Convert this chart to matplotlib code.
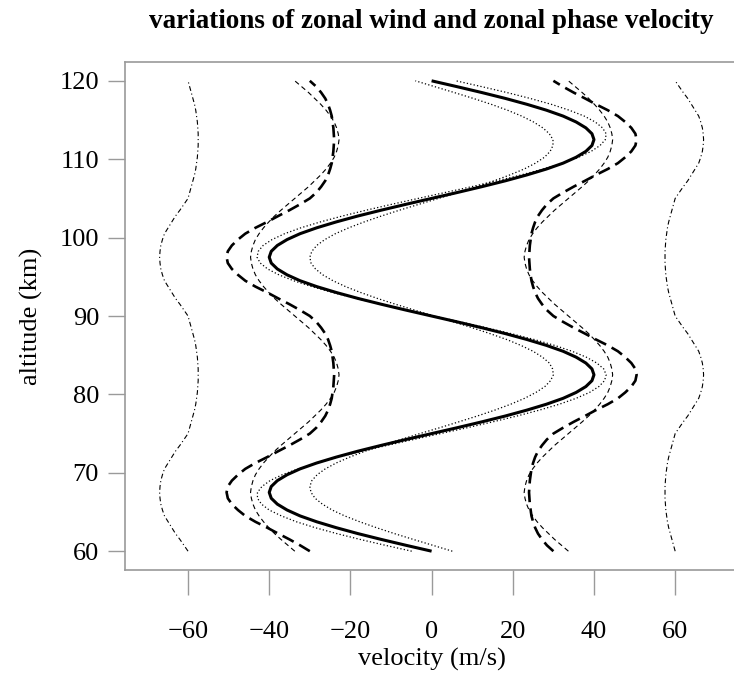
import matplotlib
matplotlib.use("Agg")
import matplotlib.pyplot as plt

plt.rcParams['font.family'] = ['Liberation Serif', 'DejaVu Serif']
plt.rcParams['lines.scale_dashes'] = False

# altitude grid (km), 0.75 km spacing from 60 to 120
altitude = [60 + 0.75 * i for i in range(81)]

# zonal wind (m/s)
wind = [0, -6.3, -12.4, -18.2, -23.5, -28.3, -32.4, -35.6, -38.0, -39.5, -40, -39.5, -38.0, -35.6, -32.4, -28.3, -23.5, -18.2, -12.4, -6.3,
        0, 6.3, 12.4, 18.2, 23.5, 28.3, 32.4, 35.6, 38.0, 39.5, 40, 39.5, 38.0, 35.6, 32.4, 28.3, 23.5, 18.2, 12.4, 6.3,
        0, -6.3, -12.4, -18.2, -23.5, -28.3, -32.4, -35.6, -38.0, -39.5, -40, -39.5, -38.0, -35.6, -32.4, -28.3, -23.5, -18.2, -12.4, -6.3,
        0, 6.3, 12.4, 18.2, 23.5, 28.3, 32.4, 35.6, 38.0, 39.5, 40, 39.5, 38.0, 35.6, 32.4, 28.3, 23.5, 18.2, 12.4, 6.3, 0]

# dotted curves (inner and outer)
dotted_inner = [5.1, 0.3, -4.5, -9.2, -13.6, -17.7, -21.4, -24.5, -26.9, -28.7, -29.7, -30.0, -29.5, -28.2, -26.2, -23.5, -20.2, -16.4, -12.2, -7.6,
                -2.9, 2.0, 6.7, 11.3, 15.6, 19.5, 22.9, 25.7, 27.9, 29.3, 30.0, 29.8, 29.0, 27.3, 25.0, 22.0, 18.5, 14.4, 10.0, 5.4,
                0.6, -4.2, -8.9, -13.4, -17.5, -21.2, -24.3, -26.8, -28.6, -29.7, -30.0, -29.5, -28.3, -26.3, -23.7, -20.4, -16.6, -12.4, -7.9, -3.1,
                1.7, 6.5, 11.1, 15.4, 19.3, 22.8, 25.6, 27.8, 29.2, 29.9, 29.9, 29.0, 27.4, 25.1, 22.2, 18.7, 14.7, 10.3, 5.6, 0.8, -4.0]
dotted_outer = [-4.9, -11.4, -17.6, -23.4, -28.7, -33.3, -37.0, -40.0, -41.9, -42.9, -42.9, -41.8, -39.8, -36.8, -32.9, -28.3, -23.0, -17.2, -10.9, -4.4,
                2.2, 8.8, 15.1, 21.1, 26.6, 31.5, 35.6, 38.9, 41.2, 42.6, 43.0, 42.4, 40.7, 38.1, 34.6, 30.3, 25.3, 19.6, 13.5, 7.1,
                0.5, -6.1, -12.5, -18.7, -24.4, -29.5, -34.0, -37.6, -40.4, -42.2, -43.0, -42.7, -41.5, -39.3, -36.2, -32.2, -27.4, -22.0, -16.1, -9.8,
                -3.3, 3.3, 9.9, 16.2, 22.1, 27.5, 32.2, 36.2, 39.3, 41.5, 42.8, 43.0, 42.1, 40.3, 37.6, 33.9, 29.5, 24.3, 18.6, 12.4, 6.0]

# thick dashed phase velocities
thick_left = [-30, -32.4, -35.0, -37.8, -40.5, -43.4, -45.9, -47.7, -49.2, -50.2, -50.5, -50.2, -49.2, -47.7, -45.9, -43.4, -40.5, -37.8, -35.0, -32.4,
              -30, -28.4, -27.2, -26.2, -25.5, -25.0, -24.6, -24.4, -24.2, -24.1, -24.0, -24.1, -24.2, -24.4, -24.6, -25.0, -25.5, -26.2, -27.2, -28.4,
              -30, -32.4, -35.0, -37.8, -40.5, -43.4, -45.9, -47.7, -49.2, -50.2, -50.5, -50.2, -49.2, -47.7, -45.9, -43.4, -40.5, -37.8, -35.0, -32.4,
              -30, -28.4, -27.2, -26.2, -25.5, -25.0, -24.6, -24.4, -24.2, -24.1, -24.0, -24.1, -24.2, -24.4, -24.6, -25.0, -25.5, -26.2, -27.2, -28.4, -30]
thick_right = [30, 28.4, 27.2, 26.2, 25.5, 25.0, 24.6, 24.4, 24.2, 24.1, 24.0, 24.1, 24.2, 24.4, 24.6, 25.0, 25.5, 26.2, 27.2, 28.4,
               30, 32.4, 35.0, 37.8, 40.5, 43.4, 45.9, 47.7, 49.2, 50.2, 50.5, 50.2, 49.2, 47.7, 45.9, 43.4, 40.5, 37.8, 35.0, 32.4,
               30, 28.4, 27.2, 26.2, 25.5, 25.0, 24.6, 24.4, 24.2, 24.1, 24.0, 24.1, 24.2, 24.4, 24.6, 25.0, 25.5, 26.2, 27.2, 28.4,
               30, 32.4, 35.0, 37.8, 40.5, 43.4, 45.9, 47.7, 49.2, 50.2, 50.5, 50.2, 49.2, 47.7, 45.9, 43.4, 40.5, 37.8, 35.0, 32.4, 30]

# thin dashed phase velocities
thin_left = [-33.7, -35.4, -37.1, -38.7, -40.1, -41.4, -42.5, -43.4, -44.0, -44.4, -44.6, -44.4, -44.0, -43.4, -42.5, -41.4, -40.1, -38.7, -37.1, -35.4,
             -33.7, -32.0, -30.3, -28.8, -27.3, -26.0, -24.9, -24.0, -23.4, -23.0, -22.8, -23.0, -23.4, -24.0, -24.9, -26.0, -27.3, -28.8, -30.3, -32.0,
             -33.7, -35.4, -37.1, -38.7, -40.1, -41.4, -42.5, -43.4, -44.0, -44.4, -44.6, -44.4, -44.0, -43.4, -42.5, -41.4, -40.1, -38.7, -37.1, -35.4,
             -33.7, -32.0, -30.3, -28.8, -27.3, -26.0, -24.9, -24.0, -23.4, -23.0, -22.8, -23.0, -23.4, -24.0, -24.9, -26.0, -27.3, -28.8, -30.3, -32.0, -33.7]
thin_right = [33.7, 32.0, 30.3, 28.8, 27.3, 26.0, 24.9, 24.0, 23.4, 23.0, 22.8, 23.0, 23.4, 24.0, 24.9, 26.0, 27.3, 28.8, 30.3, 32.0,
              33.7, 35.4, 37.1, 38.7, 40.1, 41.4, 42.5, 43.4, 44.0, 44.4, 44.6, 44.4, 44.0, 43.4, 42.5, 41.4, 40.1, 38.7, 37.1, 35.4,
              33.7, 32.0, 30.3, 28.8, 27.3, 26.0, 24.9, 24.0, 23.4, 23.0, 22.8, 23.0, 23.4, 24.0, 24.9, 26.0, 27.3, 28.8, 30.3, 32.0,
              33.7, 35.4, 37.1, 38.7, 40.1, 41.4, 42.5, 43.4, 44.0, 44.4, 44.6, 44.4, 44.0, 43.4, 42.5, 41.4, 40.1, 38.7, 37.1, 35.4, 33.7]

# dash-dot phase velocities
dd_left = [-60, -61.0, -62.0, -63.1, -64.0, -64.9, -65.8, -66.3, -66.7, -66.9, -67.0, -66.9, -66.7, -66.3, -65.8, -64.9, -64.0, -63.1, -62.0, -61.0,
           -60, -59.6, -59.2, -58.8, -58.4, -58.1, -57.9, -57.7, -57.6, -57.5, -57.5, -57.5, -57.6, -57.7, -57.9, -58.1, -58.4, -58.8, -59.2, -59.6,
           -60, -61.0, -62.0, -63.1, -64.0, -64.9, -65.8, -66.3, -66.7, -66.9, -67.0, -66.9, -66.7, -66.3, -65.8, -64.9, -64.0, -63.1, -62.0, -61.0,
           -60, -59.6, -59.2, -58.8, -58.4, -58.1, -57.9, -57.7, -57.6, -57.5, -57.5, -57.5, -57.6, -57.7, -57.9, -58.1, -58.4, -58.8, -59.2, -59.6, -60]
dd_right = [60, 59.6, 59.2, 58.8, 58.4, 58.1, 57.9, 57.7, 57.6, 57.5, 57.5, 57.5, 57.6, 57.7, 57.9, 58.1, 58.4, 58.8, 59.2, 59.6,
            60, 61.0, 62.0, 63.1, 64.0, 64.9, 65.8, 66.3, 66.7, 66.9, 67.0, 66.9, 66.7, 66.3, 65.8, 64.9, 64.0, 63.1, 62.0, 61.0,
            60, 59.6, 59.2, 58.8, 58.4, 58.1, 57.9, 57.7, 57.6, 57.5, 57.5, 57.5, 57.6, 57.7, 57.9, 58.1, 58.4, 58.8, 59.2, 59.6,
            60, 61.0, 62.0, 63.1, 64.0, 64.9, 65.8, 66.3, 66.7, 66.9, 67.0, 66.9, 66.7, 66.3, 65.8, 64.9, 64.0, 63.1, 62.0, 61.0, 60]

xticks = [-60, -40, -20, 0, 20, 40, 60]
xtick_labels = ['\u221260', '\u221240', '\u221220', '0', '20', '40', '60']
yticks = [60, 70, 80, 90, 100, 110, 120]

W, H = 734, 695
fig = plt.figure(figsize=(W / 100, H / 100), dpi=100)
ax = fig.add_axes([124.7 / W, 1 - 570 / H, (738.5 - 124.7) / W, (570 - 62) / H])

ax.plot(wind, altitude, color='black', lw=2.2, solid_capstyle='butt', solid_joinstyle='round')
for d in (dotted_inner, dotted_outer):
    ax.plot(d, altitude, color='black', lw=0.9, dashes=(0.9, 1.6), dash_capstyle='butt')
for d in (thick_left, thick_right):
    ax.plot(d, altitude, color='black', lw=1.9, dashes=(9, 4.5), dash_capstyle='butt')
for d in (thin_left, thin_right):
    ax.plot(d, altitude, color='black', lw=0.8, dashes=(3.5, 2.5), dash_capstyle='butt')
for d in (dd_left, dd_right):
    ax.plot(d, altitude, color='black', lw=0.8, dashes=(3.5, 2.0, 0.8, 2.0), dash_capstyle='butt')

ax.set_xlim(-75.6, 75.6)
ax.set_ylim(57.6, 122.4)
ax.set_xticks(xticks)
ax.set_xticklabels(xtick_labels)
ax.set_yticks(yticks)
ax.set_yticklabels([str(v) for v in yticks])

for s in ('left', 'bottom', 'top'):
    ax.spines[s].set_color('#9a9a9a')
    ax.spines[s].set_linewidth(1.2)
ax.spines['right'].set_visible(False)

ax.tick_params(axis='x', length=18, width=1, color='#9a9a9a', labelsize=19, pad=19)
ax.tick_params(axis='y', length=12.5, width=1, color='#9a9a9a', labelsize=19, pad=6)

ax.set_xlabel('velocity (m/s)', fontsize=19, labelpad=3)
ax.set_ylabel('altitude (km)', fontsize=19, labelpad=12)

fig.text(431.6 / W, 1 - 22 / H, 'variations of zonal wind and zonal phase velocity',
         ha='center', va='center', fontsize=19.5, fontweight='bold')

fig.savefig('out.png', dpi=100)
